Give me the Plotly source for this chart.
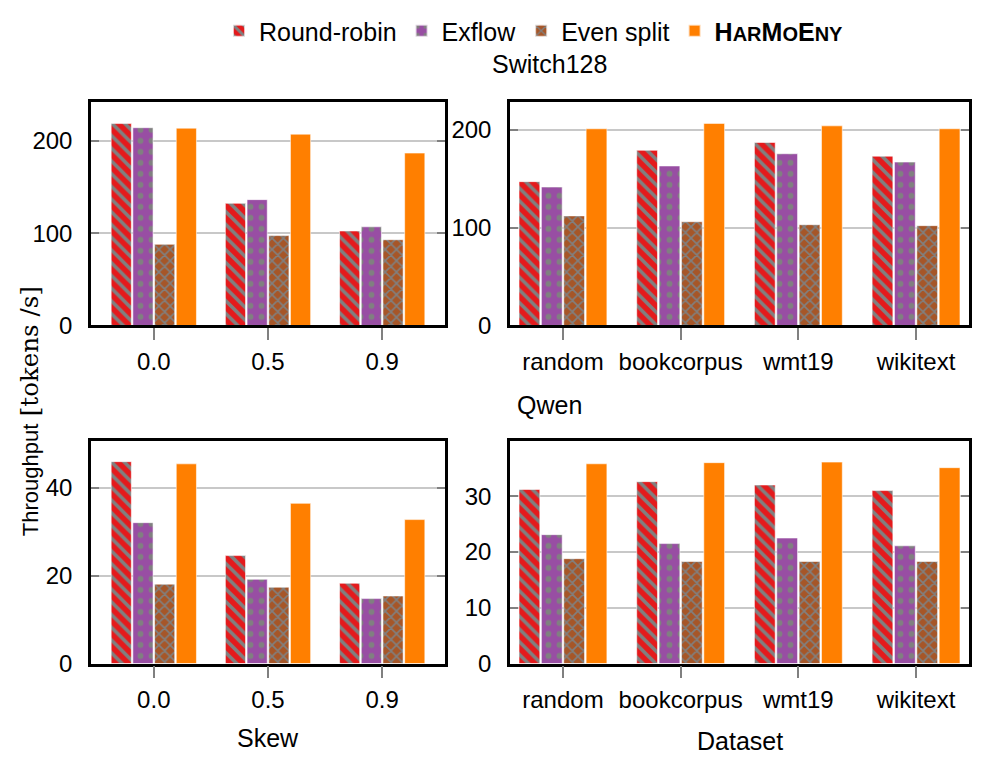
import plotly.graph_objects as go
from plotly.subplots import make_subplots

# categories
skews = ["0.0", "0.5", "0.9"]
datasets = ["random", "bookcorpus", "wmt19", "wikitext"]

# Switch128, throughput vs skew
switch_skew_rr = [219, 132.5, 102.5]
switch_skew_exflow = [214.5, 136.5, 107]
switch_skew_even = [88, 97.5, 93]
switch_skew_harmoeny = [214, 207.5, 187]

# Switch128, throughput vs dataset
switch_ds_rr = [147, 179, 187, 173]
switch_ds_exflow = [141.5, 163, 175.5, 167]
switch_ds_even = [112, 106, 103, 102]
switch_ds_harmoeny = [201, 206.5, 204, 201]

# Qwen, throughput vs skew
qwen_skew_rr = [46, 24.6, 18.3]
qwen_skew_exflow = [32.1, 19.2, 14.8]
qwen_skew_even = [18.1, 17.4, 15.4]
qwen_skew_harmoeny = [45.5, 36.5, 32.8]

# Qwen, throughput vs dataset
qwen_ds_rr = [31.2, 32.6, 32.0, 31.0]
qwen_ds_exflow = [23.1, 21.5, 22.5, 21.1]
qwen_ds_even = [18.8, 18.3, 18.3, 18.3]
qwen_ds_harmoeny = [35.8, 36.0, 36.1, 35.1]

W, H = 999, 760
FONT = "Liberation Sans, Arial, sans-serif"
SERIF = "DejaVu Serif, serif"
GRAY = "#808080"

harmoeny_name = ("<b>H<span style='font-size:20px'>AR</span>M"
                 "<span style='font-size:20px'>O</span>E"
                 "<span style='font-size:20px'>NY</span></b>")

# name, colour, pattern shape, pattern size, solidity
methods = [
    ("Round-robin", "#e41a1c", "\\", 9, 0.4),
    ("Exflow", "#984ea3", ".", 11, 0.22),
    ("Even split", "#a65628", "x", 8, 0.36),
    (harmoeny_name, "#ff7f00", "", 8, 0.3),
]

panels = [
    (1, 1, skews, [switch_skew_rr, switch_skew_exflow, switch_skew_even, switch_skew_harmoeny], 242, 100),
    (1, 2, datasets, [switch_ds_rr, switch_ds_exflow, switch_ds_even, switch_ds_harmoeny], 228, 100),
    (2, 1, skews, [qwen_skew_rr, qwen_skew_exflow, qwen_skew_even, qwen_skew_harmoeny], 50.6, 20),
    (2, 2, datasets, [qwen_ds_rr, qwen_ds_exflow, qwen_ds_even, qwen_ds_harmoeny], 39.8, 10),
]

fig = make_subplots(rows=2, cols=2)

for row, col, cats, series, ymax, dtick in panels:
    first = (row == 1 and col == 1)
    for (name, color, shape, size, solid), vals in zip(methods, series):
        fig.add_trace(go.Bar(
            x=cats, y=vals, name=name, legendgroup=name, showlegend=first,
            marker=dict(
                color=color,
                line=dict(width=0.8, color="rgba(255,255,255,0.7)"),
                pattern=dict(shape=shape, fgcolor=GRAY, bgcolor=color, fgopacity=1,
                             size=size, solidity=solid, fillmode="replace"),
            ),
        ), row=row, col=col)
    fig.update_yaxes(range=[0, ymax], dtick=dtick, row=row, col=col)
    if len(cats) == 3:
        fig.update_xaxes(range=[-0.55, 2.55], row=row, col=col)
    else:
        fig.update_xaxes(range=[-0.45, 3.45], row=row, col=col)


def px_x(a, b):
    return [a / W, b / W]


def px_y(top, bottom):
    return [1 - bottom / H, 1 - top / H]


fig.update_xaxes(domain=px_x(83, 437), col=1)
fig.update_xaxes(domain=px_x(502, 961), col=2)
fig.update_yaxes(domain=px_y(96, 323), row=1)
fig.update_yaxes(domain=px_y(441, 667), row=2)

fig.update_xaxes(
    showline=True, linecolor="black", linewidth=2.5, mirror=True,
    ticks="outside", ticklen=12, tickwidth=1.5, tickcolor=GRAY,
    showgrid=False, ticklabelstandoff=1,
    tickfont=dict(size=24, color="black", family=FONT),
)
fig.update_yaxes(
    showline=True, linecolor="black", linewidth=2.5, mirror="ticks",
    ticks="inside", ticklen=8, tickwidth=1.5, tickcolor=GRAY,
    showgrid=True, gridcolor="#c8c8c8", gridwidth=1.5, zeroline=False,
    ticklabelstandoff=11,
    tickfont=dict(size=24, color="black", family=FONT),
)

annotations = [
    dict(text="Switch128", x=541 / W, y=1 - 57 / H, font=dict(size=25)),
    dict(text="Qwen", x=541 / W, y=1 - 404 / H, font=dict(size=25)),
    dict(text="Skew", x=260 / W, y=1 - 743 / H, font=dict(size=25)),
    dict(text="Dataset", x=732 / W, y=1 - 746 / H, font=dict(size=25)),
    # y label: sans word + serif unit, stacked along the rotated line
    dict(text="Throughput", x=22 / W, y=1 - 540 / H, yanchor="bottom",
         textangle=-90, font=dict(size=22)),
    dict(text="[tokens /s]", x=21 / W, y=1 - 281 / H, yanchor="top",
         textangle=-90, font=dict(size=24.5, family=SERIF)),
]
for a in annotations:
    a.setdefault("yanchor", "middle")
    a.update(xref="paper", yref="paper", showarrow=False, xanchor="center")

fig.update_layout(
    width=W, height=H,
    margin=dict(l=0, r=0, t=0, b=0),
    paper_bgcolor="white", plot_bgcolor="white",
    font=dict(family=FONT, size=25, color="black"),
    barmode="group", bargap=0.24, bargroupgap=0.07,
    annotations=annotations,
    legend=dict(
        orientation="h", x=526 / W, xanchor="center",
        y=1.0, yanchor="top",
        font=dict(size=25), bgcolor="rgba(0,0,0,0)",
        itemsizing="constant", tracegroupgap=0,
    ),
)

fig.write_html("out.html")
